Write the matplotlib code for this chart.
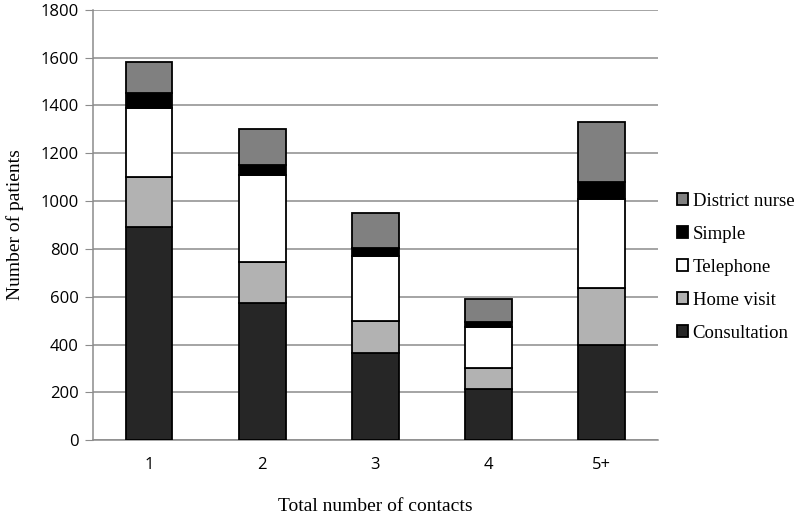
import matplotlib
matplotlib.use("Agg")
import matplotlib.pyplot as plt
import numpy as np

# data
categories = ["1", "2", "3", "4", "5+"]
consultation = [890, 575, 365, 215, 400]
home_visit = [210, 170, 135, 85, 235]
telephone = [290, 365, 270, 175, 375]
simple = [60, 40, 35, 20, 70]
district_nurse = [130, 150, 145, 95, 250]

series = [
    ("Consultation", consultation, "#262626"),
    ("Home visit", home_visit, "#b2b2b2"),
    ("Telephone", telephone, "#ffffff"),
    ("Simple", simple, "#000000"),
    ("District nurse", district_nurse, "#808080"),
]

fig = plt.figure(figsize=(8, 5.16), dpi=100)
ax = fig.add_axes([0.116, 0.147, 0.7065, 0.834])

x = np.arange(len(categories))
bottom = np.zeros(len(categories))
handles = []
for name, vals, col in series:
    b = ax.bar(x, vals, 0.41, bottom=bottom, color=col, edgecolor="black",
               linewidth=1.3, label=name, zorder=3)
    handles.append(b)
    bottom += np.array(vals)

ax.set_xlim(-0.5, len(categories) - 0.5)
ax.set_ylim(0, 1800)
ax.set_yticks(range(0, 1801, 200))
ax.set_xticks(x)
ax.set_xticklabels(categories)
ax.yaxis.grid(True, color="#8c8c8c", linewidth=1.1, zorder=0)

for s in ["top", "right"]:
    ax.spines[s].set_visible(False)
ax.spines["left"].set_color("#8c8c8c")
ax.spines["bottom"].set_color("#8c8c8c")
ax.spines["left"].set_linewidth(1.1)
ax.spines["bottom"].set_linewidth(1.1)
ax.tick_params(axis="y", direction="out", length=6, color="#8c8c8c", pad=4)
ax.tick_params(axis="x", length=0, pad=12)
for lab in ax.get_xticklabels() + ax.get_yticklabels():
    lab.set_fontfamily("Open Sans")
    lab.set_fontsize(12)

ax.set_ylabel("Number of patients", fontfamily="Liberation Serif", fontsize=14, labelpad=12)
ax.set_xlabel("Total number of contacts", fontfamily="Liberation Serif", fontsize=14, labelpad=18)

leg = fig.legend(handles[::-1], [s[0] for s in series][::-1],
                 loc="center left", bbox_to_anchor=(0.846, 0.482),
                 frameon=False, handlelength=0.6, handleheight=0.6,
                 handletextpad=0.25, labelspacing=0.85,
                 borderpad=0, borderaxespad=0,
                 prop={"family": "Liberation Serif", "size": 13.5})
for t in leg.get_texts():
    t.set_fontfamily("Liberation Serif")

fig.savefig("out.png", dpi=100)
